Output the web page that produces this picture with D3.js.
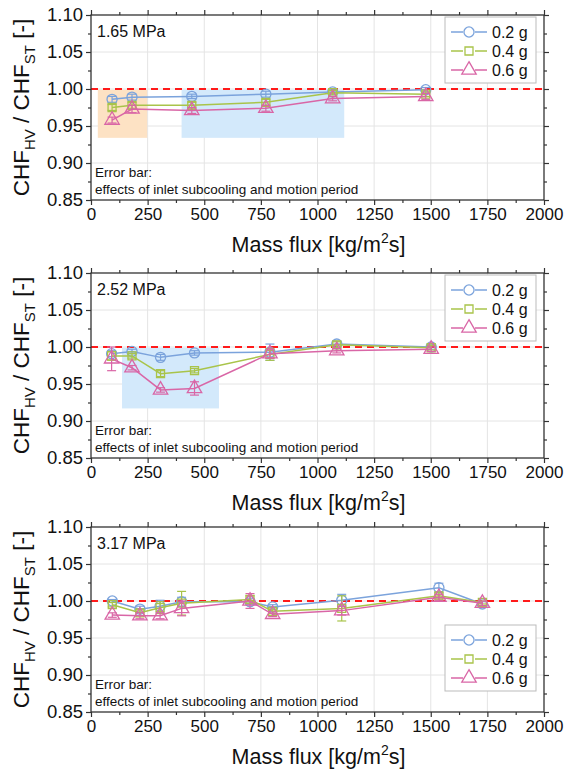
<!DOCTYPE html>
<html><head><meta charset="utf-8">
<script src="https://cdn.jsdelivr.net/npm/d3@7"></script>
<style>body{margin:0;background:#fff;}svg{display:block;font-family:"Liberation Sans",Arial,sans-serif;}</style>
</head><body><svg id="c" width="565" height="772"></svg>
<script>
// ---------- data ----------
const seriesNames = ["0.2 g", "0.4 g", "0.6 g"];
const pressures = ["1.65 MPa", "2.52 MPa", "3.17 MPa"];
const xTicks = [0, 250, 500, 750, 1000, 1250, 1500, 1750, 2000];
const yTicks = [0.85, 0.90, 0.95, 1.00, 1.05, 1.10];

// Panel 1: 1.65 MPa
const p1Flux = [93, 181, 445, 772, 1067, 1478];
const p1G02 = [0.986, 0.989, 0.990, 0.993, 0.996, 0.999];
const p1G04 = [0.975, 0.978, 0.978, 0.982, 0.995, 0.993];
const p1G06 = [0.958, 0.973, 0.971, 0.974, 0.987, 0.990];
const p1E02 = [0.004, 0.004, 0.003, 0.004, 0.003, 0.003];
const p1E04 = [0.004, 0.004, 0.004, 0.004, 0.003, 0.003];
const p1E06 = [0.004, 0.005, 0.004, 0.004, 0.003, 0.004];

// Panel 2: 2.52 MPa
const p2Flux = [91, 181, 307, 457, 790, 1085, 1502];
const p2G02 = [0.991, 0.994, 0.986, 0.992, 0.993, 1.004, 1.000];
const p2G04 = [0.988, 0.988, 0.964, 0.968, 0.990, 1.003, 0.999];
const p2G06 = [0.984, 0.972, 0.942, 0.944, 0.991, 0.995, 0.997];
const p2E02 = [0.004, 0.003, 0.004, 0.003, 0.011, 0.004, 0.003];
const p2E04 = [0.006, 0.003, 0.004, 0.003, 0.008, 0.004, 0.003];
const p2E06 = [0.016, 0.003, 0.003, 0.009, 0.006, 0.003, 0.003];

// Panel 3: 3.17 MPa
const p3Flux = [94, 216, 305, 400, 702, 802, 1107, 1536, 1728];
const p3G02 = [1.000, 0.989, 0.993, 0.999, 0.999, 0.992, 1.001, 1.018, 0.996];
const p3G04 = [0.995, 0.984, 0.991, 0.997, 1.002, 0.986, 0.990, 1.007, 0.998];
const p3G06 = [0.981, 0.980, 0.980, 0.990, 1.000, 0.982, 0.987, 1.005, 0.997];
const p3E02 = [0.002, 0.004, 0.008, 0.006, 0.004, 0.003, 0.008, 0.006, 0.003];
const p3E04 = [0.003, 0.004, 0.008, 0.016, 0.005, 0.003, 0.017, 0.004, 0.002];
const p3E06 = [0.003, 0.004, 0.004, 0.010, 0.010, 0.003, 0.006, 0.004, 0.003];

// shaded regions [x0, x1, y0, y1]
const p1Boxes = [[30, 248, 0.934, 0.999], [400, 1118, 0.934, 0.999]];
const p2Boxes = [[137, 565, 0.917, 0.999]];
const p3Boxes = [];

const panels = [
  {label: pressures[0], flux: p1Flux, ys: [p1G02, p1G04, p1G06], es: [p1E02, p1E04, p1E06], boxes: p1Boxes, legendBottom: false},
  {label: pressures[1], flux: p2Flux, ys: [p2G02, p2G04, p2G06], es: [p2E02, p2E04, p2E06], boxes: p2Boxes, legendBottom: false},
  {label: pressures[2], flux: p3Flux, ys: [p3G02, p3G04, p3G06], es: [p3E02, p3E04, p3E06], boxes: p3Boxes, legendBottom: true}
];

// ---------- style ----------
const colors = ["#7ba3dc", "#a9c44a", "#d966a6"];
const boxColors = ["#fde2c4", "#d3e9fb"];
const symbols = [d3.symbolCircle, d3.symbolSquare, d3.symbolTriangle];
const symSizes = [80, 64, 90];

const L = 91, R = 544, H = 185;
const tops = [15, 273, 527];
const svg = d3.select("#c");

const x = d3.scaleLinear().domain([0, 2000]).range([L, R]);
const xMinor = d3.range(125, 2000, 250);
const yMinor = [0.875, 0.925, 0.975, 1.025, 1.075];

function marker(g, i, cx, cy) {
  g.append("path")
    .attr("d", d3.symbol().type(symbols[i]).size(symSizes[i])())
    .attr("transform", `translate(${cx},${cy})`)
    .attr("fill", "none").attr("stroke", colors[i]).attr("stroke-width", 1.3);
}

panels.forEach((p, pi) => {
  const top = tops[pi], bot = top + H;
  const y = d3.scaleLinear().domain([0.85, 1.10]).range([bot, top]);
  const g = svg.append("g");

  // grid
  g.selectAll(".gx").data(xTicks.slice(1, -1)).join("line")
    .attr("x1", d => x(d)).attr("x2", d => x(d)).attr("y1", top).attr("y2", bot)
    .attr("stroke", "#e4e4e4").attr("stroke-width", 1);
  g.selectAll(".gy").data(yTicks.slice(1, -1)).join("line")
    .attr("x1", L).attr("x2", R).attr("y1", d => y(d)).attr("y2", d => y(d))
    .attr("stroke", "#e4e4e4").attr("stroke-width", 1);

  // shaded boxes
  p.boxes.forEach((b, bi) => {
    g.append("rect")
      .attr("x", x(b[0])).attr("y", y(b[3]))
      .attr("width", x(b[1]) - x(b[0])).attr("height", y(b[2]) - y(b[3]))
      .attr("fill", pi === 0 && bi === 0 ? boxColors[0] : boxColors[1]);
  });

  // reference line
  g.append("line").attr("x1", L).attr("x2", R).attr("y1", y(1)).attr("y2", y(1))
    .attr("stroke", "#ff1a1a").attr("stroke-width", 2).attr("stroke-dasharray", "7,5");

  // series
  p.ys.forEach((vals, si) => {
    const pts = p.flux.map((f, k) => [f, vals[k], p.es[si][k]]);
    g.append("path").datum(pts)
      .attr("d", d3.line().x(d => x(d[0])).y(d => y(d[1])))
      .attr("fill", "none").attr("stroke", colors[si]).attr("stroke-width", 1.5);
    pts.forEach(d => {
      const cx = x(d[0]);
      const y0 = y(d[1] - d[2]), y1 = y(d[1] + d[2]);
      g.append("line").attr("x1", cx).attr("x2", cx).attr("y1", y0).attr("y2", y1)
        .attr("stroke", colors[si]).attr("stroke-width", 1.2);
      [y0, y1].forEach(yy => g.append("line").attr("x1", cx - 4.5).attr("x2", cx + 4.5)
        .attr("y1", yy).attr("y2", yy).attr("stroke", colors[si]).attr("stroke-width", 1.2));
      marker(g, si, cx, y(d[1]));
    });
  });

  // frame
  g.append("rect").attr("x", L).attr("y", top).attr("width", R - L).attr("height", H)
    .attr("fill", "none").attr("stroke", "#333").attr("stroke-width", 1.3);

  // axes
  const fmt = d3.format(".2f");
  const ax = (axis) => axis.tickSizeOuter(0);
  const xb = g.append("g").attr("transform", `translate(0,${bot})`)
    .call(ax(d3.axisBottom(x).tickValues(xTicks).tickSize(5).tickPadding(3).tickFormat(d3.format("d"))));
  g.append("g").attr("transform", `translate(0,${bot})`)
    .call(ax(d3.axisBottom(x).tickValues(xMinor).tickSize(3).tickFormat("")));
  g.append("g").attr("transform", `translate(0,${top})`)
    .call(ax(d3.axisTop(x).tickValues(xTicks).tickSize(5).tickFormat("")));
  g.append("g").attr("transform", `translate(0,${top})`)
    .call(ax(d3.axisTop(x).tickValues(xMinor).tickSize(3).tickFormat("")));
  const yl = g.append("g").attr("transform", `translate(${L},0)`)
    .call(ax(d3.axisLeft(y).tickValues(yTicks).tickSize(5).tickPadding(3).tickFormat(fmt)));
  g.append("g").attr("transform", `translate(${L},0)`)
    .call(ax(d3.axisLeft(y).tickValues(yMinor).tickSize(3).tickFormat("")));
  g.append("g").attr("transform", `translate(${R},0)`)
    .call(ax(d3.axisRight(y).tickValues(yTicks).tickSize(5).tickFormat("")));
  g.append("g").attr("transform", `translate(${R},0)`)
    .call(ax(d3.axisRight(y).tickValues(yMinor).tickSize(3).tickFormat("")));
  g.selectAll(".domain").remove();
  g.selectAll(".tick line").attr("stroke", "#333").attr("stroke-width", 1.2);
  g.selectAll(".tick text").attr("fill", "#111").style("font-family", "'Liberation Sans', Arial, sans-serif");
  xb.selectAll(".tick text").attr("font-size", 17);
  yl.selectAll(".tick text").attr("font-size", 18.5);

  // titles
  g.append("text").attr("x", (L + R) / 2 + 1).attr("y", bot + 52).attr("text-anchor", "middle")
    .attr("font-size", 21.5).attr("fill", "#111")
    .call(t => { t.append("tspan").text("Mass flux [kg/m");
                 t.append("tspan").text("2").attr("font-size", 14).attr("dy", -9);
                 t.append("tspan").text("s]").attr("dy", 9); });
  const yt = g.append("text").attr("transform", `translate(29,${top + H / 2}) rotate(-90)`)
    .attr("text-anchor", "middle").attr("font-size", 22.5).attr("fill", "#111");
  yt.append("tspan").text("CHF");
  yt.append("tspan").text("HV").attr("font-size", 15).attr("dy", 6);
  yt.append("tspan").text(" / CHF").attr("dy", -6);
  yt.append("tspan").text("ST").attr("font-size", 15).attr("dy", 6);
  yt.append("tspan").text(" [-]").attr("dy", -6);

  // annotations
  g.append("text").attr("x", 97).attr("y", top + 22).attr("font-size", 16).attr("fill", "#111").text(p.label);
  g.append("text").attr("x", 95).attr("y", bot - 23).attr("font-size", 13.5).attr("fill", "#111").text("Error bar:");
  g.append("text").attr("x", 95).attr("y", bot - 6).attr("font-size", 13.5).attr("fill", "#111")
    .text("effects of inlet subcooling and motion period");

  // legend
  const lx = 445, ly = p.legendBottom ? bot - 87 : top + 2, lw = 91, lh = 66;
  const lg = g.append("g");
  lg.append("rect").attr("x", lx).attr("y", ly).attr("width", lw).attr("height", lh)
    .attr("fill", "#fff").attr("stroke", "#bbb").attr("stroke-width", 1);
  seriesNames.forEach((nm, si) => {
    const yy = ly + 15 + si * 19;
    lg.append("line").attr("x1", lx + 6).attr("x2", lx + 42).attr("y1", yy).attr("y2", yy)
      .attr("stroke", colors[si]).attr("stroke-width", 1.5);
    lg.append("rect").attr("x", lx + 18).attr("y", yy - 6).attr("width", 12).attr("height", 12).attr("fill", "#fff");
    marker(lg, si, lx + 24, yy);
    lg.append("text").attr("x", lx + 47).attr("y", yy + 6).attr("font-size", 16).attr("fill", "#111").text(nm);
  });
});
</script>
</body></html>
